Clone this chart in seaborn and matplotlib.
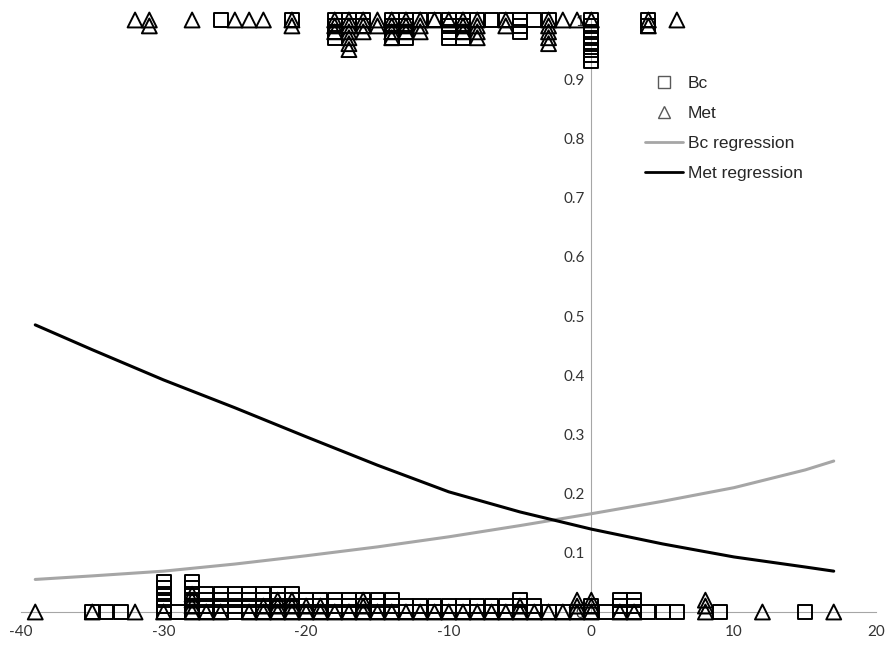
import numpy as np
import pandas as pd
import seaborn as sns
import matplotlib.pyplot as plt
from matplotlib.lines import Line2D

# ---------------- data ----------------
# stacked observations near y = 0 (x value, number of stacked points)
bc_low_x = [-35, -34, -33, -30, -29, -28, -27, -26, -25, -24, -23, -22, -21, -20, -19, -18, -17,
            -16, -15, -14, -13, -12, -11, -10, -9, -8, -7, -6, -5, -4, -3, -2, -1, 0, 1, 2, 3,
            4, 5, 6, 9, 15]
bc_low_n = [1, 1, 1, 6, 1, 6, 4, 4, 4, 4, 4, 4, 4, 3, 3, 3, 3,
            3, 3, 3, 2, 2, 2, 2, 2, 2, 2, 2, 3, 2, 1, 1, 1, 2, 1, 3, 3,
            1, 1, 1, 1, 1]
met_low_x = [-39, -35, -32, -30, -28, -27, -26, -24, -23, -22, -21, -20, -19, -18, -17, -16, -15,
             -14, -13, -12, -11, -10, -9, -8, -7, -6, -5, -4, -3, -2, -1, 0, 2, 3, 8, 12, 17]
met_low_n = [1, 1, 1, 1, 4, 1, 1, 1, 2, 3, 3, 2, 2, 1, 1, 3, 1,
             1, 1, 1, 1, 1, 1, 1, 1, 1, 2, 1, 1, 1, 3, 3, 1, 1, 3, 1, 1]
# stacked observations near y = 1 (stacked downward)
bc_high_x = [-26, -21, -18, -17, -16, -14, -13, -12, -11, -10, -9, -8, -7, -6, -5, -4, -3, 0, 4]
bc_high_n = [1, 1, 4, 2, 2, 4, 4, 1, 1, 4, 4, 1, 1, 1, 3, 1, 1, 8, 2]
met_high_x = [-32, -31, -28, -25, -24, -23, -21, -18, -17, -16, -15, -14, -13, -12, -11, -10,
              -9, -8, -6, -3, -2, -1, 0, 4, 6]
met_high_n = [1, 2, 1, 1, 1, 1, 2, 3, 6, 3, 2, 4, 3, 3, 1, 1,
              3, 4, 2, 5, 1, 1, 1, 2, 1]

# regression curves
curve_x = [-39, -35, -30, -25, -20, -15, -10, -5, 0, 5, 10, 15, 17]
bc_reg_y = [0.055, 0.061, 0.069, 0.081, 0.095, 0.110, 0.127, 0.146, 0.166, 0.187, 0.210, 0.240, 0.255]
met_reg_y = [0.485, 0.443, 0.392, 0.345, 0.296, 0.248, 0.203, 0.169, 0.140, 0.115, 0.093, 0.076, 0.069]

x_ticks = [-40, -30, -20, -10, 0, 10, 20]
y_ticks = [0, 0.1, 0.2, 0.3, 0.4, 0.5, 0.6, 0.7, 0.8, 0.9, 1]
y_tick_labels = ["0", "0.1", "0.2", "0.3", "0.4", "0.5", "0.6", "0.7", "0.8", "0.9", "1"]
STEP = 0.01


def stacked(xs, ns, base, direction):
    rows = []
    for x, n in zip(xs, ns):
        for k in range(n):
            rows.append({"x": x, "y": base + direction * STEP * k})
    return pd.DataFrame(rows)


bc_df = pd.concat([stacked(bc_low_x, bc_low_n, 0, 1), stacked(bc_high_x, bc_high_n, 1, -1)])
met_df = pd.concat([stacked(met_low_x, met_low_n, 0, 1), stacked(met_high_x, met_high_n, 1, -1)])

# ---------------- plot ----------------
sns.set_style("white")
plt.rcParams["font.family"] = ["Lato", "DejaVu Sans"]

fig = plt.figure(figsize=(8.89, 6.48), dpi=100)
ax = fig.add_axes([21 / 889, 36 / 648, 855.5 / 889, 592 / 648])

sns.lineplot(x=curve_x, y=bc_reg_y, color="#A6A6A6", linewidth=2.2, ax=ax, zorder=2)
sns.lineplot(x=curve_x, y=met_reg_y, color="black", linewidth=2.2, ax=ax, zorder=2)

sns.scatterplot(data=bc_df, x="x", y="y", marker="s", s=100, linewidth=1.4,
                ax=ax, clip_on=False, zorder=3)
sns.scatterplot(data=met_df, x="x", y="y", marker="^", s=115, linewidth=1.4,
                ax=ax, clip_on=False, zorder=3)
for coll in ax.collections:
    coll.set_facecolor("none")
    coll.set_edgecolor("black")

ax.set_xlim(-40, 20)
ax.set_ylim(0, 1)
ax.set_xlabel("")
ax.set_ylabel("")

for s in ["top", "right"]:
    ax.spines[s].set_visible(False)
ax.spines["left"].set_position(("data", 0))
ax.spines["left"].set_color("#A6A6A6")
ax.spines["bottom"].set_color("#A6A6A6")
ax.spines["left"].set_zorder(1)
ax.spines["bottom"].set_zorder(1)

ax.set_xticks(x_ticks)
ax.set_xticklabels([str(v) for v in x_ticks])
ax.set_yticks(y_ticks)
ax.set_yticklabels(y_tick_labels)
ax.tick_params(axis="x", direction="out", length=4, color="#A6A6A6", width=1,
               labelsize=11, labelcolor="#333333", pad=5)
ax.tick_params(axis="y", length=0, labelsize=11, labelcolor="#333333", pad=5)

handles = [
    Line2D([], [], marker="s", ls="", mfc="none", mec="#595959", ms=8, mew=1),
    Line2D([], [], marker="^", ls="", mfc="none", mec="#595959", ms=8, mew=1),
    Line2D([], [], color="#A6A6A6", lw=2),
    Line2D([], [], color="black", lw=2),
]
labels = ["Bc", "Met", "Bc regression", "Met regression"]
fig.legend(handles, labels, loc="upper left", bbox_to_anchor=(629 / 889, 1 - 60 / 648),
           frameon=False, handlelength=2.2, handletextpad=0.3, labelspacing=0.86,
           prop={"family": "Liberation Sans", "size": 12.5})

fig.savefig("out.png", dpi=100)
